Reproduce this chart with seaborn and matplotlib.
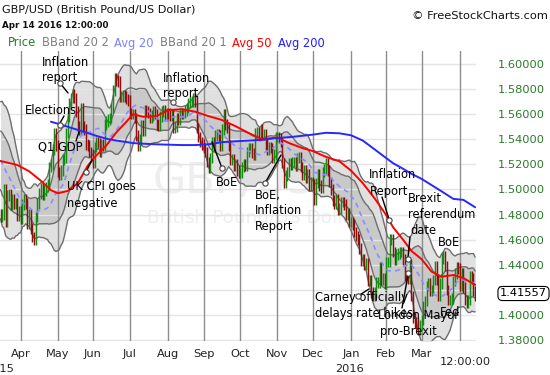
import numpy as np
import pandas as pd
import matplotlib
matplotlib.use("Agg")
import matplotlib.pyplot as plt
from matplotlib.lines import Line2D
import seaborn as sns

# ---------------- data ----------------
# closes for the 19 sessions before the first visible one (feed the 20-day bands)
pre_closes = [1.5365, 1.5450, 1.5420, 1.5390, 1.5435, 1.5490, 1.5500, 1.5370, 1.5435,
              1.5370, 1.5330, 1.5240, 1.5290, 1.5050, 1.5100, 1.5000, 1.4910, 1.4930, 1.4800]

closes = [
    # Mar 2015 (from 16th)
    1.4780, 1.4800, 1.5000, 1.4740, 1.4950, 1.4960, 1.4880, 1.4920, 1.4890, 1.4890, 1.4790, 1.4830,
    # Apr 2015
    1.4770, 1.4880, 1.4920, 1.4890, 1.4730, 1.4800, 1.4690, 1.4620, 1.4600, 1.4780, 1.4890,
    1.4970, 1.5010, 1.4960, 1.4990, 1.5020, 1.5040, 1.5180, 1.5200, 1.5320, 1.5450, 1.5350,
    # May 2015
    1.5140, 1.5120, 1.5150, 1.5240, 1.5250, 1.5450, 1.5580, 1.5690, 1.5730, 1.5760, 1.5730,
    1.5620, 1.5500, 1.5480, 1.5650, 1.5500, 1.5480, 1.5360, 1.5350, 1.5300, 1.5280,
    # Jun 2015
    1.5210, 1.5340, 1.5380, 1.5370, 1.5300, 1.5360, 1.5350, 1.5520, 1.5540, 1.5560, 1.5570,
    1.5650, 1.5790, 1.5890, 1.5870, 1.5860, 1.5740, 1.5740, 1.5750, 1.5740, 1.5720, 1.5710,
    # Jul 2015
    1.5610, 1.5600, 1.5600, 1.5570, 1.5430, 1.5350, 1.5400, 1.5510, 1.5470, 1.5630, 1.5620, 1.5610,
    1.5570, 1.5590, 1.5620, 1.5600, 1.5520, 1.5510, 1.5580, 1.5620, 1.5630, 1.5590, 1.5610,
    # Aug 2015
    1.5605, 1.5590, 1.5600, 1.5490, 1.5500, 1.5570, 1.5560, 1.5610, 1.5600, 1.5610, 1.5630,
    1.5650, 1.5690, 1.5700, 1.5700, 1.5730, 1.5700, 1.5490, 1.5420, 1.5380, 1.5360,
    # Sep 2015
    1.5330, 1.5300, 1.5220, 1.5170, 1.5250, 1.5380, 1.5350, 1.5430, 1.5440, 1.5430, 1.5350,
    1.5480, 1.5600, 1.5520, 1.5490, 1.5350, 1.5240, 1.5240, 1.5190, 1.5200, 1.5150, 1.5130,
    # Oct 2015
    1.5130, 1.5180, 1.5200, 1.5190, 1.5300, 1.5330, 1.5330, 1.5290, 1.5280, 1.5450, 1.5460,
    1.5440, 1.5480, 1.5440, 1.5440, 1.5360, 1.5320, 1.5340, 1.5330, 1.5250, 1.5280, 1.5420,
    # Nov 2015
    1.5420, 1.5410, 1.5380, 1.5210, 1.5050, 1.5110, 1.5140, 1.5210, 1.5200, 1.5220, 1.5220,
    1.5190, 1.5250, 1.5260, 1.5180, 1.5120, 1.5150, 1.5090, 1.5120, 1.5030, 1.5060,
    # Dec 2015
    1.5040, 1.4920, 1.5050, 1.5120, 1.5030, 1.5010, 1.5140, 1.5160, 1.5210, 1.5150, 1.5060, 1.5000,
    1.4910, 1.4890, 1.4920, 1.4840, 1.4850, 1.4900, 1.4900, 1.4880, 1.4800, 1.4810, 1.4740,
    # Jan 2016
    1.4740, 1.4720, 1.4660, 1.4630, 1.4600, 1.4530, 1.4430, 1.4440, 1.4400, 1.4410, 1.4270,
    1.4280, 1.4180, 1.4150, 1.4180, 1.4260, 1.4260, 1.4380, 1.4280, 1.4290, 1.4250,
    # Feb 2016
    1.4420, 1.4420, 1.4600, 1.4600, 1.4500, 1.4440, 1.4480, 1.4490, 1.4500, 1.4500, 1.4440,
    1.4310, 1.4300, 1.4290, 1.4400, 1.4150, 1.3980, 1.3940, 1.3930, 1.3880, 1.3920,
    # Mar 2016
    1.3960, 1.4070, 1.4110, 1.4230, 1.4250, 1.4190, 1.4200, 1.4280, 1.4390, 1.4280, 1.4150, 1.4250,
    1.4450, 1.4470, 1.4390, 1.4200, 1.4120, 1.4120, 1.4130, 1.4270, 1.4330, 1.4380, 1.4370,
    # Apr 2016
    1.4230, 1.4330, 1.4220, 1.4120, 1.4100, 1.4120, 1.4310, 1.4290, 1.4190, 1.4156,
]

avg_dates = ['2015-03-16', '2015-03-30', '2015-04-08', '2015-04-17', '2015-04-27', '2015-05-01',
             '2015-05-11', '2015-05-19', '2015-05-27', '2015-06-03', '2015-06-11', '2015-06-19',
             '2015-06-29', '2015-07-03', '2015-07-13', '2015-07-23', '2015-08-03', '2015-08-13',
             '2015-08-25', '2015-09-04', '2015-09-16', '2015-09-28', '2015-10-08', '2015-10-20',
             '2015-11-02', '2015-11-11', '2015-11-23', '2015-12-01', '2015-12-11', '2015-12-23',
             '2016-01-01', '2016-01-12', '2016-01-21', '2016-02-01', '2016-02-05', '2016-02-15',
             '2016-02-22', '2016-03-01', '2016-03-09', '2016-03-17', '2016-03-28', '2016-04-05',
             '2016-04-14']
avg50 = [1.5227, 1.5195, 1.5145, 1.5070, 1.4995, 1.4970, 1.4988, 1.5050, 1.5190, 1.5270, 1.5350,
         1.5455, 1.5540, 1.5600, 1.5580, 1.5585, 1.5633, 1.5640, 1.5620, 1.5585, 1.5554, 1.5505,
         1.5450, 1.5400, 1.5415, 1.5370, 1.5330, 1.5307, 1.5260, 1.5225, 1.5150, 1.5050, 1.4930,
         1.4795, 1.4700, 1.4600, 1.4510, 1.4445, 1.4345, 1.4305, 1.4318, 1.4294, 1.4240]
avg200_dates = avg_dates[4:]
avg200 = [1.5540, 1.5525, 1.5500, 1.5475, 1.5450, 1.5428, 1.5405, 1.5390, 1.5378, 1.5370, 1.5365,
          1.5360, 1.5357, 1.5354, 1.5354, 1.5360, 1.5377, 1.5384, 1.5390, 1.5396, 1.5410, 1.5417,
          1.5428, 1.5437, 1.5452, 1.5448, 1.5432, 1.5390, 1.5320, 1.5250, 1.5210, 1.5165, 1.5125,
          1.5085, 1.5035, 1.4985, 1.4925, 1.4917, 1.4858]

month_starts = ['2015-04-01', '2015-05-01', '2015-06-01', '2015-07-01', '2015-08-03', '2015-09-01',
                '2015-10-01', '2015-11-02', '2015-12-01', '2016-01-01', '2016-02-01', '2016-03-01',
                '2016-04-01']
month_labels = ['Apr', 'May', 'Jun', 'Jul', 'Aug', 'Sep', 'Oct', 'Nov', 'Dec', 'Jan', 'Feb', 'Mar', '']
price_ticks = [1.38, 1.40, 1.42, 1.44, 1.46, 1.48, 1.50, 1.52, 1.54, 1.56, 1.58, 1.60]
last_price = 1.41557

# ---------------- setup ----------------
sns.set_theme(style="white")
plt.rcParams['font.family'] = ['DejaVu Sans']

W, H = 550, 375
fig = plt.figure(figsize=(W / 100, H / 100), dpi=100)
AX_L, AX_R, AX_T, AX_B = 0, 476, 51, 341
ax = fig.add_axes([AX_L / W, 1 - AX_B / H, (AX_R - AX_L) / W, (AX_B - AX_T) / H])
ax.patch.set_alpha(0)

dates = pd.bdate_range('2015-03-16', '2016-04-14')
x = np.arange(len(dates))
allc = pd.Series(pre_closes + closes)
npre = len(pre_closes)
mid = allc.rolling(20).mean().iloc[npre:].to_numpy()
sd = allc.rolling(20).std(ddof=0).iloc[npre:].to_numpy()
c = np.array(closes)
o = np.array([pre_closes[-1]] + closes[:-1])

ax.set_xlim(-0.36, 283.5)
ax.set_ylim(1.3792, 1.6104)

# watermark
ax.text(250 / W, 1 - 181 / H, 'GBP/USD', transform=fig.transFigure, fontsize=31,
        color='#eeeeee', ha='center', va='center', zorder=0.1)
ax.text(254 / W, 1 - 217 / H, 'British Pound/US Dollar', transform=fig.transFigure,
        fontsize=13.3, color='#eeeeee', ha='center', va='center', zorder=0.1)

# bands
ax.fill_between(x, mid + 2 * sd, mid - 2 * sd, color='#e0e0e0', lw=0, zorder=1)
ax.fill_between(x, mid + sd, mid - sd, color='#c9c9c9', lw=0, zorder=1.1)
for band in (mid + 2 * sd, mid - 2 * sd, mid + sd, mid - sd):
    sns.lineplot(x=x, y=band, ax=ax, color='#6e6e6e', linewidth=1.0, legend=False, zorder=1.5)

# candles
up = c >= o
pad = 0.0042
lo = np.minimum(o, c) - pad
hi = np.maximum(o, c) + pad
ax.vlines(x, lo, hi, colors=np.where(up, '#138a13', '#8b1010'), lw=1.05, zorder=3)

# moving averages
sns.lineplot(x=x, y=mid, ax=ax, color='#8c8cff', linewidth=1.2, linestyle=(0, (3, 2.5)),
             legend=False, zorder=3.5)
xi50 = dates.searchsorted(pd.to_datetime(avg_dates))
sns.lineplot(x=xi50, y=avg50, ax=ax, color='#ff0000', linewidth=1.4, legend=False, zorder=4)
xi200 = dates.searchsorted(pd.to_datetime(avg200_dates))
sns.lineplot(x=xi200, y=avg200, ax=ax, color='#2727ff', linewidth=1.4, legend=False, zorder=4)

# axes styling
xt = dates.searchsorted(pd.to_datetime(month_starts))
ax.set_xticks(xt)
ax.set_xticklabels(month_labels, fontsize=8.2, color='#222222')
ax.set_yticks(price_ticks)
ax.set_yticklabels([f'{v:.5f}' for v in price_ticks], fontsize=8.2, color='#2a7a2a')
ax.yaxis.tick_right()
ax.tick_params(axis='y', length=0, pad=16)
ax.tick_params(axis='x', length=0, pad=6)
ax.set_axisbelow(False)
ax.grid(False)
for yv in price_ticks:
    ax.axhline(yv, color='#e4e4e4', lw=1.0, zorder=1.2)
for xv in xt:
    ax.axvline(xv, color='#8e8e8e', lw=1.0, zorder=1.3)
for s in ax.spines.values():
    s.set_visible(False)
ax.set_xlabel('')
ax.set_ylabel('')


def ft(px, py, s, **kw):
    fig.text(px / W, 1 - py / H, s, **kw)


# header
ft(2, 9, 'GBP/USD (British Pound/US Dollar)', fontsize=8.1, color='#111111', va='center')
ft(2, 25, 'Apr 14 2016 12:00:00', fontsize=6.3, weight='bold', color='#111111', va='center')
ft(548, 16, '\u00a9 FreeStockCharts.com', fontsize=8.2, color='#111111', va='center', ha='right')
for lx, name, col in [(8, 'Price', '#2a7a2a'), (42, 'BBand 20 2', '#808080'), (114, 'Avg 20', '#8080ff'),
                      (160, 'BBand 20 1', '#808080'), (232, 'Avg 50', '#ff0000'),
                      (278, 'Avg 200', '#2020ff')]:
    ft(lx, 43, name, fontsize=8.3, color=col, va='center')

# year labels / crosshair time
ft(0, 369, '2015', fontsize=8.2, color='#222222', va='center', ha='center')
ft(350, 369, '2016', fontsize=8.2, color='#222222', va='center', ha='center')
ft(465, 362, '12:00:00', fontsize=8.2, color='#222222', va='center', ha='center')

# last price box
ft(523.5, 293.5, f'{last_price:.5f}', fontsize=8.2, color='black', va='center', ha='center',
   bbox=dict(boxstyle='round,pad=0.18,rounding_size=0.4', fc='white', ec='black', lw=0.8))

# annotations (text lines, connector, circle) in pixel layout
notes = [
    ([(42, 62, 'Inflation'), (42, 77, 'report')], ((60, 83), (68, 93)), (60, 83)),
    ([(25, 111, 'Elections')], ((64, 116), (60, 123)), (60, 125)),
    ([(38, 147, 'Q1 GDP')], ((76, 141), (79, 132)), None),
    ([(67, 187, 'UK CPI goes'), (67, 203, 'negative')], ((86, 172), (92, 160)), (86, 172)),
    ([(163, 78, 'Inflation'), (163, 93, 'report')], None, (173, 102)),
    ([(216, 182, 'BoE')], ((222, 168), (212, 142)), (222, 168)),
    ([(255, 195, 'BoE,'), (255, 211, 'Inflation'), (255, 227, 'Report')], ((265, 183), (281, 155)),
     (265, 183)),
    ([(369, 175, 'Inflation'), (370, 191, 'Report')], ((382, 197), (389, 219)), (389, 220)),
    ([(408, 199, 'Brexit'), (408, 215, 'referendum'), (410, 231, 'date')], ((410, 237), (408, 258)),
     (408, 259)),
    ([(378, 315, 'London Mayor'), (380, 331, 'pro-Brexit')], ((402, 308), (408, 275)), (408, 273)),
    ([(315, 297, 'Carney officially'), (315, 313, 'delays rate hikes')], ((358, 296), (369, 289)),
     (358, 296)),
    ([(438, 243, 'BoE')], None, None),
    ([(440, 313, 'Fed')], None, None),
]
for lines, conn, circ in notes:
    for px, py, s in lines:
        ft(px, py, s, fontsize=8.3, color='black', va='center', ha='left', zorder=6)
    if conn is not None:
        (x1, y1), (x2, y2) = conn
        fig.add_artist(Line2D([x1 / W, x2 / W], [1 - y1 / H, 1 - y2 / H], color='black', lw=1.0,
                              transform=fig.transFigure, zorder=6))
    if circ is not None:
        cx, cy = circ
        fig.add_artist(Line2D([cx / W], [1 - cy / H], marker='o', markersize=3.8, mfc='white',
                              mec='#444444', mew=0.8, transform=fig.transFigure, zorder=6.5))

fig.savefig('out.png', dpi=100)
